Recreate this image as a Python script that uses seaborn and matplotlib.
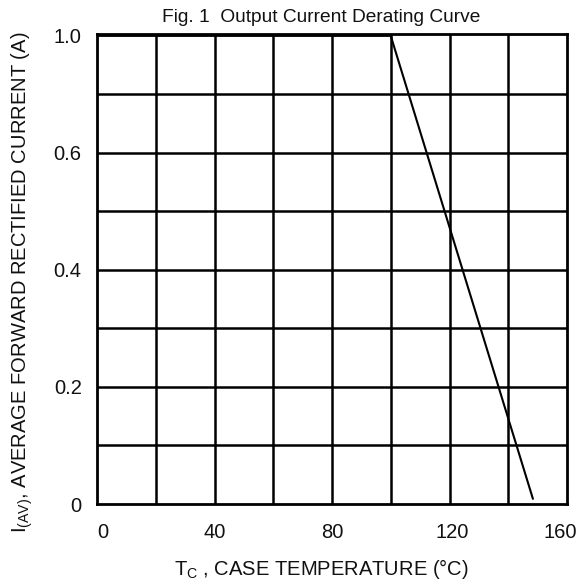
import matplotlib
matplotlib.use("Agg")
import matplotlib.pyplot as plt
import matplotlib.transforms as mtransforms
import seaborn as sns
import pandas as pd

# Data (y in axis units: 1.0 = top of the grid)
case_temp = [0, 100, 148.4]
current = [1.0, 1.0, 0.011]

x_major = [0, 40, 80, 120, 160]
x_labels = ["0", "40", "80", "120", "160"]
x_minor = [20, 60, 100, 140]
y_major = [0, 0.25, 0.5, 0.75, 1.0]
y_labels = ["0", "0.2", "0.4", "0.6", "1.0"]
y_minor = [0.125, 0.375, 0.625, 0.875]

title = "Fig. 1  Output Current Derating Curve"
xlabel = r"T$_{\mathrm{C}}$ , CASE TEMPERATURE (°C)"
ylabel = r"I$_{\mathrm{(AV)}}$, AVERAGE FORWARD RECTIFIED CURRENT (A)"

sns.set_theme(style="white")
plt.rcParams["font.family"] = ["Liberation Sans", "DejaVu Sans"]
plt.rcParams["mathtext.fontset"] = "custom"
plt.rcParams["mathtext.rm"] = "Liberation Sans"
plt.rcParams["mathtext.it"] = "Liberation Sans"

W, H = 579, 586
df = pd.DataFrame({"temp": case_temp, "current": current})

fig = plt.figure(figsize=(W / 100, H / 100), dpi=100)
ax = fig.add_axes([97 / W, 1 - 504 / H, 470 / W, 470 / H])

sns.lineplot(data=df, x="temp", y="current", ax=ax, color="black",
             linewidth=1.5, zorder=5)
ax.set_xlabel("")
ax.set_ylabel("")

ax.set_xlim(0, 160)
ax.set_ylim(0, 1.004)
ax.set_xticks(x_major)
ax.set_xticklabels(x_labels)
ax.set_xticks(x_minor, minor=True)
ax.set_yticks(y_major)
ax.set_yticklabels(y_labels)
ax.set_yticks(y_minor, minor=True)

ax.grid(True, which="both", color="black", linewidth=1.8)
ymt = ax.yaxis.get_major_ticks()
ymt[-1].gridline.set_visible(False)
ymt[0].gridline.set_visible(False)
xmt = ax.xaxis.get_major_ticks()
xmt[0].gridline.set_visible(False)
xmt[-1].gridline.set_visible(False)

ax.tick_params(axis="both", which="both", length=0, labelsize=14.5,
               labelcolor="#111111")
ax.tick_params(axis="x", pad=13.5)
ax.tick_params(axis="y", pad=11)

# small horizontal nudges of the x tick labels (pixels), as in the reference
x_label_shift = [5.5, 0.5, 0, 3, -7]
for lbl, dx in zip(ax.get_xticklabels(), x_label_shift):
    lbl.set_transform(lbl.get_transform() +
                      mtransforms.ScaledTranslation(dx / 100, 0, fig.dpi_scale_trans))

for s in ax.spines.values():
    s.set_visible(True)
    s.set_color("black")
    s.set_linewidth(2.0)

fig.text(321.7 / W, 1 - 575 / H, xlabel, fontsize=14.5, color="#111111",
         ha="center", va="baseline")
fig.text(27 / W, 1 - 282 / H, ylabel, fontsize=14.5, color="#111111",
         ha="center", va="baseline", rotation=90, rotation_mode="anchor")
fig.text(321.5 / W, 1 - 21.7 / H, title, fontsize=13.8, color="#111111",
         ha="center", va="baseline")

fig.savefig("out.png", dpi=100)
